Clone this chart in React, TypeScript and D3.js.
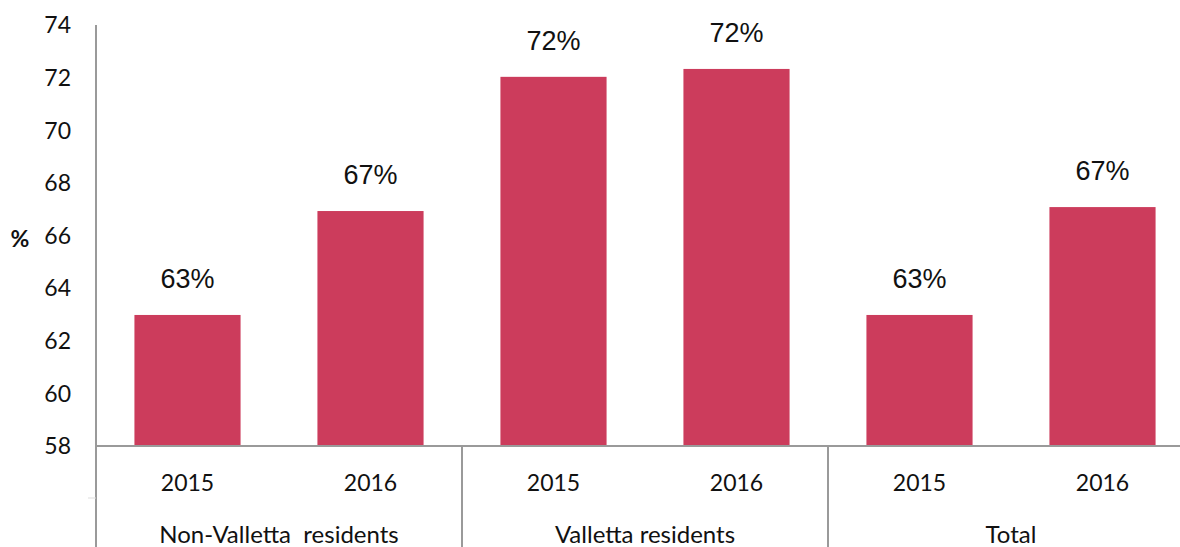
import React, { useRef, useEffect } from "react";
import * as d3 from "d3";

// chart data
const groups = ["Non-Valletta  residents", "Valletta residents", "Total"];
const years = ["2015", "2016"];
const values = [62.98, 66.93, 72.03, 72.33, 62.98, 67.08];
const valueLabels = ["63%", "67%", "72%", "72%", "63%", "67%"];
const yTicks = [58, 60, 62, 64, 66, 68, 70, 72, 74];

const W = 1180;
const H = 547;

const App: React.FC = () => {
  const svgRef = useRef<SVGSVGElement>(null);

  useEffect(() => {
    if (!svgRef.current) return;
    const svg = d3.select(svgRef.current);
    svg.selectAll("*").remove();

    // plot area (the right edge runs past the picture, as in the source)
    const left = 96;
    const step = 183;
    const top = 25;
    const base = 446;

    const cats = groups.flatMap((g, gi) => years.map((y) => `${gi}-${y}`));

    const x = d3
      .scaleBand<string>()
      .domain(cats)
      .range([left, left + step * cats.length])
      .paddingInner(0.42)
      .paddingOuter(0.21);

    const y = d3.scaleLinear().domain([58, 74]).range([base, top]);

    const axisColor = "#9a9a9a";
    const tickFont = "Lato, 'Open Sans', sans-serif";

    // bars
    svg
      .append("g")
      .selectAll("rect")
      .data(values)
      .join("rect")
      .attr("x", (_, i) => x(cats[i])!)
      .attr("width", x.bandwidth())
      .attr("y", (d) => y(d))
      .attr("height", (d) => base - y(d))
      .attr("fill", "#cc3c5c");

    // value labels
    svg
      .append("g")
      .selectAll("text")
      .data(values)
      .join("text")
      .attr("x", (_, i) => x(cats[i])! + x.bandwidth() / 2)
      .attr("y", (d) => y(d) - 27)
      .attr("text-anchor", "middle")
      .style("font-family", "'Liberation Sans', Arial, sans-serif")
      .style("font-size", "27px")
      .attr("fill", "#111")
      .text((_, i) => valueLabels[i]);

    // y axis tick labels
    svg
      .append("g")
      .selectAll("text")
      .data(yTicks)
      .join("text")
      .attr("x", 71)
      .attr("y", (d) => y(d))
      .attr("dy", "0.36em")
      .attr("text-anchor", "end")
      .style("font-family", tickFont)
      .style("font-size", "23px")
      .attr("fill", "#111")
      .text((d) => d);

    // "%" axis title
    svg
      .append("text")
      .attr("x", 20)
      .attr("y", y(66) + 3)
      .attr("dy", "0.36em")
      .attr("text-anchor", "middle")
      .style("font-family", tickFont)
      .style("font-size", "23px")
      .style("font-weight", "bold")
      .attr("fill", "#111")
      .text("%");

    // axis lines
    svg
      .append("line")
      .attr("x1", left)
      .attr("x2", left)
      .attr("y1", top)
      .attr("y2", H)
      .attr("stroke", axisColor)
      .attr("stroke-width", 2);

    svg
      .append("line")
      .attr("x1", left)
      .attr("x2", W)
      .attr("y1", base)
      .attr("y2", base)
      .attr("stroke", axisColor)
      .attr("stroke-width", 2);

    // small tick between the two label rows
    svg
      .append("line")
      .attr("x1", left - 8)
      .attr("x2", left)
      .attr("y1", 498)
      .attr("y2", 498)
      .attr("stroke", "#dddddd")
      .attr("stroke-width", 1);

    // group separators
    const sepX = [1, 2].map((g) => left + step * years.length * g);
    svg
      .append("g")
      .selectAll("line")
      .data(sepX)
      .join("line")
      .attr("x1", (d) => d)
      .attr("x2", (d) => d)
      .attr("y1", base)
      .attr("y2", H)
      .attr("stroke", axisColor)
      .attr("stroke-width", 2);

    // year labels
    svg
      .append("g")
      .selectAll("text")
      .data(cats)
      .join("text")
      .attr("x", (d) => x(d)! + x.bandwidth() / 2)
      .attr("y", 483)
      .attr("dy", "0.36em")
      .attr("text-anchor", "middle")
      .style("font-family", tickFont)
      .style("font-size", "23px")
      .style("white-space", "pre")
      .attr("fill", "#111")
      .text((d) => d.split("-")[1]);

    // group labels
    svg
      .append("g")
      .selectAll("text")
      .data(groups)
      .join("text")
      .attr("x", (_, gi) => left + step * years.length * (gi + 0.5))
      .attr("y", 534)
      .attr("dy", "0.36em")
      .attr("text-anchor", "middle")
      .style("font-family", tickFont)
      .style("font-size", "24px")
      .style("white-space", "pre")
      .attr("fill", "#111")
      .text((d) => d);
  }, []);

  return (
    <svg
      ref={svgRef}
      width={W}
      height={H}
      style={{ position: "absolute", left: 0, top: 0, background: "#fff" }}
    />
  );
};

export default App;
